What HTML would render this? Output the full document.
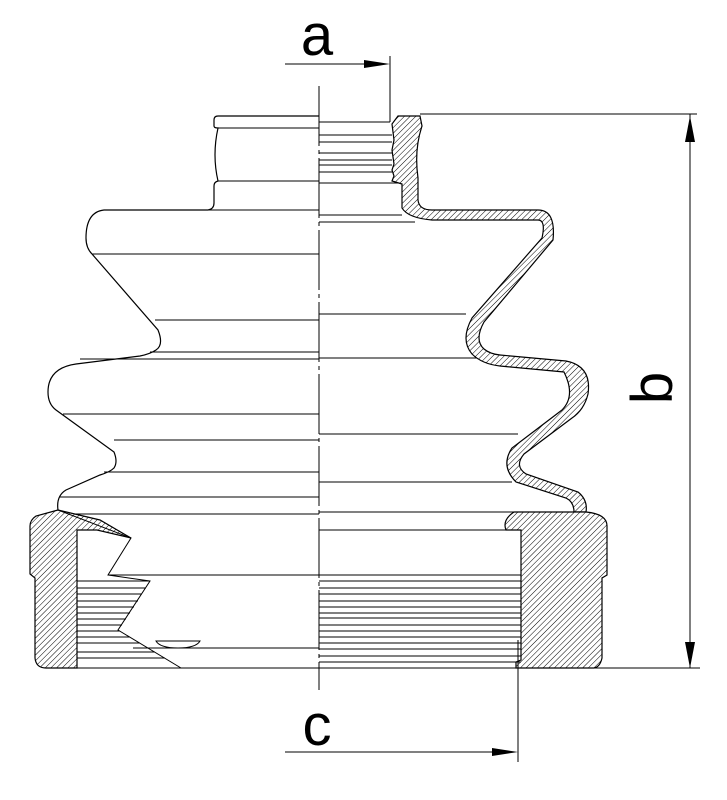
<!DOCTYPE html>
<html><head><meta charset="utf-8"><style>
html,body{margin:0;padding:0;background:#fff;width:727px;height:800px;overflow:hidden}
svg{display:block}
text{font-family:"Liberation Sans",sans-serif;fill:#000}
</style></head><body>
<svg width="727" height="800" viewBox="0 0 727 800" xmlns="http://www.w3.org/2000/svg">
<defs>
<pattern id="h" patternUnits="userSpaceOnUse" width="4" height="4" patternTransform="rotate(45)">
<rect width="4" height="4" fill="#fff"/><line x1="0" y1="0" x2="0" y2="4" stroke="#000" stroke-width="1"/>
</pattern>
</defs>
<g fill="none" stroke="#000" stroke-width="1.2">
<path d="M319 116 H218 Q214 116 214 120 V126 Q214 128 218 128 Q212 155 218 181 Q214 182 214 186 V203 Q214 209 208 210 H104 Q86 212 86 238 Q86 248 92 254 L158 330 Q164 345 156 350 Q150 354 140 356 L76 364 Q48 368 48 392 Q48 404 56 410 L114 452 Q118 462 114 468 Q110 472 100 475 L66 490 Q56 496 58 510"/>
<g stroke-width="1">
<line x1="218" y1="128" x2="319" y2="128"/>
<line x1="218" y1="181" x2="319" y2="181"/>
<line x1="104" y1="210" x2="319" y2="210"/>
<line x1="92" y1="254" x2="319" y2="254"/>
<line x1="155" y1="320" x2="319" y2="320"/>
<line x1="150" y1="352" x2="319" y2="352"/>
<line x1="80" y1="359" x2="319" y2="359"/>
<line x1="63" y1="414" x2="319" y2="414"/>
<line x1="114" y1="440" x2="319" y2="440"/>
<line x1="104" y1="472" x2="319" y2="472"/>
<line x1="60" y1="497" x2="319" y2="497"/>
<line x1="58" y1="514" x2="319" y2="514"/>
<line x1="319" y1="122" x2="390" y2="122"/>
<line x1="319" y1="135" x2="392" y2="135"/>
<line x1="319" y1="142" x2="392" y2="142"/>
<line x1="319" y1="153" x2="392" y2="153"/>
<line x1="319" y1="160" x2="392" y2="160"/>
<line x1="319" y1="165" x2="392" y2="165"/>
<line x1="319" y1="172" x2="392" y2="172"/>
<line x1="319" y1="183" x2="398" y2="183"/>
<line x1="319" y1="215" x2="402" y2="215"/>
<line x1="319" y1="222" x2="415" y2="222"/>
<line x1="319" y1="314" x2="466" y2="314"/>
<line x1="319" y1="358" x2="478" y2="358"/>
<line x1="319" y1="434" x2="518" y2="434"/>
<line x1="319" y1="482" x2="512" y2="482"/>
<line x1="319" y1="512" x2="514" y2="512"/>
<line x1="319" y1="530" x2="521" y2="530"/>
</g>
</g>
<path d="M398 116 H420 L422 126 Q414 150 418 178 V200 Q419 210 432 210 H538 Q556 210 553 240 L484 322 Q474 340 484 349 Q490 354 500 355 L566 361 Q592 366 588 394 Q584 410 572 418 L524 454 Q514 466 526 474 L578 492 Q588 500 586 512 L574 512 Q574 502 566 498 L516 482 Q500 466 512 448 L562 410 Q576 396 564 372 L500 366 Q482 364 472 354 Q460 340 472 318 L542 238 Q546 220 538 220 H432 Q408 218 402 208 V184 L392 181 L394 176 L392 170 L394 164 L392 150 L394 140 L392 124 Z" fill="url(#h)" stroke="#000" stroke-width="1.2"/>
<path d="M58 510 L36 516 Q30 520 30 526 V574 L35 578 V658 Q36 668 46 668 H77 V530 H97 L131 538 L100 520 Z" fill="url(#h)" stroke="#000" stroke-width="1.2"/>
<path d="M514 512 H586 Q607 514 607 526 V575 L602 578 V658 Q600 667 594 668 H516 V662 L521 660 V530 H506 Q502 520 514 512 Z" fill="url(#h)" stroke="#000" stroke-width="1.2"/>
<g fill="none" stroke="#000" stroke-width="1">
<path d="M58 510 L131 538 L108 575 L150 581 L118 630 L181 668"/>
<line x1="108" y1="575" x2="319" y2="575"/>
<line x1="133" y1="648" x2="319" y2="648"/>
<line x1="77" y1="581" x2="150" y2="581"/>
<line x1="77" y1="588" x2="146" y2="588"/>
<line x1="77" y1="594" x2="142" y2="594"/>
<line x1="77" y1="601" x2="138" y2="601"/>
<line x1="77" y1="607" x2="134" y2="607"/>
<line x1="77" y1="613" x2="130" y2="613"/>
<line x1="77" y1="619" x2="126" y2="619"/>
<line x1="77" y1="625" x2="122" y2="625"/>
<line x1="77" y1="631" x2="120" y2="631"/>
<line x1="77" y1="637" x2="130" y2="637"/>
<line x1="77" y1="643" x2="140" y2="643"/>
<line x1="77" y1="652" x2="155" y2="652"/>
<line x1="77" y1="658" x2="165" y2="658"/>
<path d="M156 641 H200 Q196 648 178 648 Q160 648 156 641 Z"/>
<line x1="319" y1="575" x2="521" y2="575"/>
<line x1="319" y1="581" x2="521" y2="581"/>
<line x1="319" y1="588" x2="521" y2="588"/>
<line x1="319" y1="594" x2="521" y2="594"/>
<line x1="319" y1="601" x2="521" y2="601"/>
<line x1="319" y1="607" x2="521" y2="607"/>
<line x1="319" y1="613" x2="521" y2="613"/>
<line x1="319" y1="618" x2="521" y2="618"/>
<line x1="319" y1="625" x2="521" y2="625"/>
<line x1="319" y1="631" x2="521" y2="631"/>
<line x1="319" y1="637" x2="521" y2="637"/>
<line x1="319" y1="643" x2="521" y2="643"/>
<line x1="319" y1="649" x2="521" y2="649"/>
<line x1="319" y1="656" x2="521" y2="656"/>
<line x1="319" y1="662" x2="521" y2="662"/>
<line x1="44" y1="668" x2="700" y2="668"/>
<line x1="319" y1="86" x2="319" y2="690" stroke-dasharray="60 4 4 4"/>
<line x1="285" y1="64" x2="370" y2="64"/>
<line x1="390" y1="56" x2="390" y2="122"/>
<line x1="420" y1="114" x2="697" y2="114"/>
<line x1="690" y1="114" x2="690" y2="668"/>
<line x1="285" y1="752" x2="500" y2="752"/>
<line x1="518" y1="640" x2="518" y2="762"/>
</g>
<polygon points="364,60 390,64 364,68" fill="#000"/>
<polygon points="685,142 690,116 695,142" fill="#000"/>
<polygon points="685,642 690,668 695,642" fill="#000"/>
<polygon points="492,748 518,752 492,756" fill="#000"/>
<text x="317" y="55" font-size="58" text-anchor="middle">a</text>
<text x="317" y="745" font-size="58" text-anchor="middle">c</text>
<text transform="translate(672,388) rotate(-90)" font-size="58" text-anchor="middle">b</text>
</svg>
</body></html>
